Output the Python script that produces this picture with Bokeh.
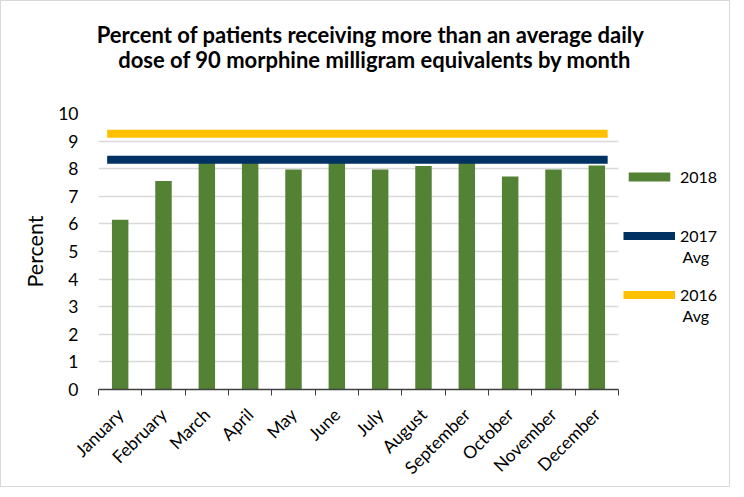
import numpy as np
from bokeh.plotting import figure
from bokeh.models import (Range1d, FixedTicker, Legend, LegendItem, ColumnDataSource,
                          Label, Title)
from bokeh.embed import file_html
from bokeh.resources import INLINE

months = ["January", "February", "March", "April", "May", "June", "July",
          "August", "September", "October", "November", "December"]
rate_2018 = [6.15, 7.55, 8.3, 8.3, 7.97, 8.3, 7.97, 8.1, 8.3, 7.72, 7.97, 8.12]
avg_2017 = 8.32
avg_2016 = 9.27
y_ticks = list(range(0, 11))
title_lines = ["Percent of patients receiving more than an average daily",
               "dose of 90 morphine milligram equivalents by month"]

FONT = "Lato"
W, H = 730, 487
LEFT, RIGHT, TOP, BOTTOM = 97, 6, 112, 97
CAT_PX = 520 / len(months)            # pixel width of one month slot
frame_w = W - LEFT - RIGHT
frame_h = H - TOP - BOTTOM
x_end = frame_w / CAT_PX              # room on the right for the legend
n = len(months)

pos = np.arange(n) + 0.5
src = ColumnDataSource(dict(x=pos, month=months, rate=rate_2018))

p = figure(width=W, height=H, output_backend="svg", toolbar_location=None,
           x_range=Range1d(0, x_end), y_range=Range1d(0, 10),
           min_border_left=LEFT, min_border_right=RIGHT, min_border_top=TOP,
           min_border_bottom=BOTTOM)
p.outline_line_color = None
p.background_fill_color = "white"
p.border_fill_color = "white"
p.styles = {"border": "1px solid #d9d9d9"}

p.title.text = ""
p.title.standoff = 0

# title lines (second line sits closest to the plot area)
title_objs = []
for line, off in zip(reversed(title_lines), (19.7, -1.8)):
    title_objs.append(Title(text=line, align="left", offset=off, standoff=0,
                            text_font=FONT, text_font_size="22px",
                            text_font_style="bold", text_color="black"))
tight = True
try:
    for t in title_objs:
        t.standoff = -4
except Exception:
    tight = False
    for t in title_objs:
        t.standoff = 0

spacer = Title(text=" ", text_font_size="1px", standoff=40 if tight else 37)
p.add_layout(spacer, "above")
for t in title_objs:
    p.add_layout(t, "above")

bars = p.vbar(x="x", top="rate", width=0.38, source=src, fill_color="#548235",
              line_color=None)
l17 = p.segment(x0=[0.2], x1=[n - 0.25], y0=[avg_2017], y1=[avg_2017],
                line_color="#003163", line_width=8)
l16 = p.segment(x0=[0.2], x1=[n - 0.25], y0=[avg_2016], y1=[avg_2016],
                line_color="#FFC000", line_width=8)

# y axis
p.yaxis.ticker = FixedTicker(ticks=y_ticks)
p.yaxis.axis_line_color = None
p.yaxis.major_tick_line_color = None
p.yaxis.minor_tick_line_color = None
p.yaxis.major_label_text_font = FONT
p.yaxis.major_label_text_font_size = "17.5px"
p.yaxis.major_label_text_color = "black"
p.yaxis.major_label_standoff = 14
p.yaxis.axis_label = "Percent"
p.yaxis.axis_label_text_font = FONT
p.yaxis.axis_label_text_font_size = "21.5px"
p.yaxis.axis_label_text_font_style = "normal"
p.yaxis.axis_label_text_color = "black"
p.yaxis.axis_label_standoff = 7

# x axis
p.xaxis.ticker = FixedTicker(ticks=list(pos), minor_ticks=list(range(n + 1)))
p.xaxis.bounds = (0, n)
p.xaxis.major_label_overrides = {float(v): m for v, m in zip(pos, months)}
p.xaxis.major_label_orientation = np.pi / 4
p.xaxis.major_label_text_font = FONT
p.xaxis.major_label_text_font_size = "17.5px"
p.xaxis.major_label_text_color = "black"
p.xaxis.major_tick_line_color = None
p.xaxis.minor_tick_line_color = "#404040"
p.xaxis.minor_tick_out = 6
p.xaxis.minor_tick_in = 0
p.xaxis.axis_line_color = "#404040"
p.xaxis.axis_line_width = 1.5
p.xaxis.major_label_standoff = 16

p.xgrid.grid_line_color = None
p.ygrid.ticker = FixedTicker(ticks=y_ticks)
p.ygrid.grid_line_color = "#d9d9d9"
p.ygrid.grid_line_width = 1.5
try:
    p.ygrid.cross_bounds = (0, n)
except Exception:
    p.ygrid.grid_line_color = None
    p.segment(x0=[0] * len(y_ticks), x1=[n] * len(y_ticks), y0=y_ticks, y1=y_ticks,
              line_color="#d9d9d9", line_width=1.5, level="underlay")

legend = Legend(items=[LegendItem(label="2018", renderers=[bars]),
                       LegendItem(label="2017", renderers=[l17]),
                       LegendItem(label="2016", renderers=[l16])],
                location=(525, 85), orientation="vertical")
legend.border_line_color = None
legend.background_fill_alpha = 0
legend.glyph_width = 52
legend.glyph_height = 11
legend.label_height = 20
legend.label_text_font = FONT
legend.label_text_font_size = "16px"
legend.label_text_color = "black"
legend.label_standoff = 5
legend.spacing = 39
legend.padding = 0
legend.margin = 0
p.add_layout(legend, "center")

# second line of the two average legend entries
ppy = frame_h / 10.0
for y_px in (390 - 256, 390 - 315):
    p.add_layout(Label(x=584 / CAT_PX, y=y_px / ppy, text="Avg", text_font=FONT,
                       text_font_size="16px", text_color="black",
                       text_baseline="middle", text_align="left"))

open("out.html", "w").write(file_html(p, INLINE))
